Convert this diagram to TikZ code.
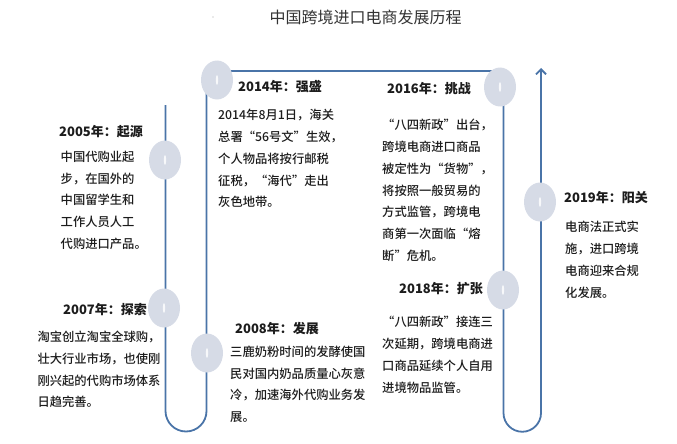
\documentclass[tikz,border=0pt]{standalone}
\usepackage{fontspec}
\setmainfont{Noto Sans CJK SC}
\newfontfamily\bodyfont{Noto Sans CJK SC Medium}
\usetikzlibrary{shapes.geometric,arrows.meta}
\definecolor{lineblue}{RGB}{74,116,168}
\definecolor{dotgray}{RGB}{214,219,230}
\definecolor{textgray}{RGB}{28,28,28}
\tikzset{
  yeardot/.style={ellipse, fill=dotgray, minimum width=32pt, minimum height=39pt, inner sep=0pt,
    path picture={\fill[white!80!dotgray] (path picture bounding box.center) ellipse (1.2pt and 5pt);}},
  yeartitle/.style={anchor=west, inner sep=0pt, font=\fontsize{13}{15}\selectfont\bfseries, text=textgray},
  yeartext/.style={anchor=north west, inner sep=0pt, align=left, font=\fontsize{12.3}{21.8}\selectfont\bodyfont, text=textgray},
}
\begin{document}
\begin{tikzpicture}[x=1pt,y=-1pt]
  \useasboundingbox (0,0) rectangle (677,444);

  \node[font=\fontsize{16}{18}\selectfont, text=black!80] (title) at (365.5,17) {中国跨境进口电商发展历程};
  \fill[black!35] (213,17) circle (0.6pt);

  % the timeline
  \coordinate (start) at (165.5,105);
  \coordinate (tip) at (541,68);
  \draw[lineblue, line width=1.8pt, -{Straight Barb[length=5pt,width=10pt]}]
    (start) -- (165.5,411) arc[start angle=180, end angle=360, radius=20.5pt]
    -- (206.5,71) -- (503.5,71) -- (503.5,413)
    arc[start angle=180, end angle=360, radius=18.75pt] -- (tip);

  % year dots
  \node[yeardot] (d05) at (165,160) {};
  \node[yeardot] (d07) at (164,308) {};
  \node[yeardot] (d08) at (207,353) {};
  \node[yeardot] (d14) at (217,80) {};
  \node[yeardot] (d16) at (500,87) {};
  \node[yeardot] (d18) at (503,290) {};
  \node[yeardot] (d19) at (540,202) {};

  % headings
  \node[yeartitle] (h05) at (59,131.7) {2005年：起源};
  \node[yeartitle] (h07) at (63,310) {2007年：探索};
  \node[yeartitle] (h08) at (235,328.3) {2008年：发展};
  \node[yeartitle] (h14) at (238,87) {2014年：强盛};
  \node[yeartitle] (h16) at (387,89) {2016年：挑战};
  \node[yeartitle] (h18) at (399,289) {2018年：扩张};
  \node[yeartitle] (h19) at (564,198) {2019年：阳关};

  % texts
  \node[yeartext] (t05) at (60.5,150.7) {中国代购业起\\步，在国外的\\中国留学生和\\工作人员人工\\代购进口产品。};
  \node[yeartext] (t07) at (37.3,330.7) {淘宝创立淘宝全球购，\\壮大行业市场，也使刚\\刚兴起的代购市场体系\\日趋完善。};
  \node[yeartext] (t08) at (230,345.7) {三鹿奶粉时间的发酵使国\\民对国内奶品质量心灰意\\冷，加速海外代购业务发\\展。};
  \node[yeartext] (t14) at (218,109) {2014年8月1日，海关\\总署“56号文”生效，\\个人物品将按行邮税\\征税，“海代”走出\\灰色地带。};
  \node[yeartext] (t16) at (382,119) {“八四新政”出台，\\跨境电商进口商品\\被定性为“货物”，\\将按照一般贸易的\\方式监管，跨境电\\商第一次面临“熔\\断”危机。};
  \node[yeartext] (t18) at (382,316) {“八四新政”接连三\\次延期，跨境电商进\\口商品延续个人自用\\进境物品监管。};
  \node[yeartext] (t19) at (565,221) {电商法正式实\\施，进口跨境\\电商迎来合规\\化发展。};

\end{tikzpicture}
\end{document}
